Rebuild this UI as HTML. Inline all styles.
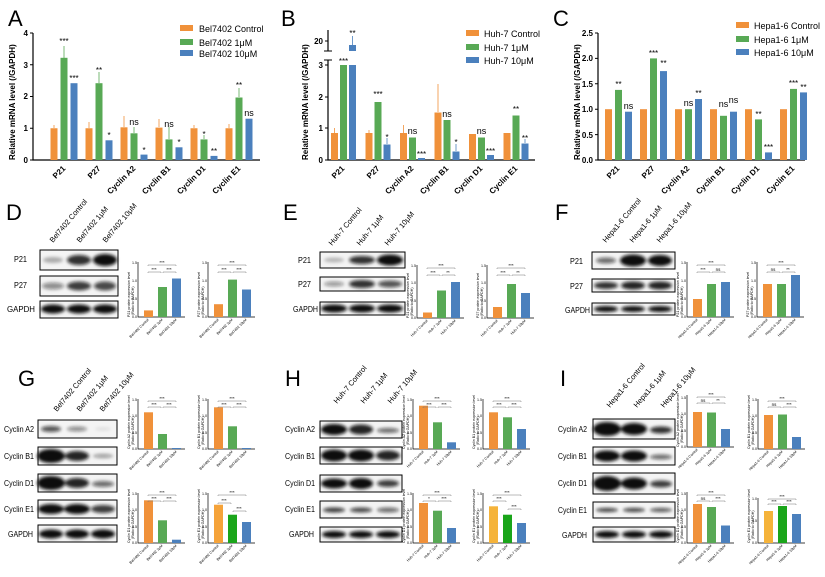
<!DOCTYPE html>
<html><head><meta charset="utf-8"><style>
body{margin:0;background:#fff}
svg{display:block;font-family:"Liberation Sans",Arial,sans-serif}
.L{font-size:22px}
.tk{font-size:8px;font-weight:bold}
.xl{font-size:8px;font-weight:bold}
.lg{font-size:9px}
.yl{font-size:8px;font-weight:bold}
.st{font-size:8px}
.bl{font-size:8px}
.ln{font-size:7.5px}
.s{font-size:3.6px}
.sb{font-size:4.5px}
</style></head><body>
<svg width="825" height="577" viewBox="0 0 825 577" xmlns="http://www.w3.org/2000/svg">
<defs><filter id="bl" x="-20%" y="-50%" width="140%" height="200%"><feGaussianBlur stdDeviation="1.6"/></filter></defs>
<rect width="825" height="577" fill="#fff"/>

<!-- ===== A ===== -->
<text x="8" y="26" class="L">A</text>
<text transform="translate(15,160) rotate(-90)" class="yl">Relative mRNA level (/GAPDH)</text>
<path d="M33,33V160H260" stroke="#000" stroke-width="1.2" fill="none"/>
<g stroke="#000" stroke-width="1"><path d="M30,33H33M30,64.75H33M30,96.5H33M30,128.25H33M30,160H33"/></g>
<g class="tk" text-anchor="end"><text x="28" y="36">4</text><text x="28" y="68">3</text><text x="28" y="99">2</text><text x="28" y="131">1</text><text x="28" y="163">0</text></g>
<g fill="#f0913a"><rect x="50.5" y="128.25" width="7" height="31.75"/><rect x="85.5" y="128.25" width="7" height="31.75"/><rect x="120.5" y="127.3" width="7" height="32.7"/><rect x="155.5" y="127.6" width="7" height="32.4"/><rect x="190.5" y="128.25" width="7" height="31.75"/><rect x="225.5" y="128.25" width="7" height="31.75"/></g>
<g fill="#58a955"><rect x="60.5" y="57.8" width="7" height="102.2"/><rect x="95.5" y="83.2" width="7" height="76.8"/><rect x="130.5" y="133.3" width="7" height="26.7"/><rect x="165.5" y="139.4" width="7" height="20.6"/><rect x="200.5" y="139.4" width="7" height="20.6"/><rect x="235.5" y="97.5" width="7" height="62.5"/></g>
<g fill="#4b80bd"><rect x="70.5" y="83.2" width="7" height="76.8"/><rect x="105.5" y="140.3" width="7" height="19.7"/><rect x="140.5" y="154.6" width="7" height="5.4"/><rect x="175.5" y="147.3" width="7" height="12.7"/><rect x="210.5" y="155.9" width="7" height="4.1"/><rect x="245.5" y="118.7" width="7" height="41.3"/></g>
<g stroke-width=".8" fill="none"><path stroke="#f0913a" d="M54,128V125M89,128V122M124,127V116M159,127V119M194,128V125M229,128V124"/><path stroke="#58a955" d="M64,58V46M99,83V72M134,133V127M169,139V127M204,139V135M239,97V88"/></g>
<g class="st" text-anchor="middle"><text x="64" y="44">***</text><text x="74" y="81">***</text><text x="99" y="73">**</text><text x="109" y="138">*</text><text x="134" y="125" font-size="9">ns</text><text x="144" y="153">*</text><text x="169" y="127" font-size="9">ns</text><text x="179" y="145">*</text><text x="204" y="137">*</text><text x="214" y="154">**</text><text x="239" y="88">**</text><text x="249" y="116" font-size="9">ns</text></g>
<g class="xl" text-anchor="end"><text transform="translate(66,169) rotate(-45)">P21</text><text transform="translate(101,169) rotate(-45)">P27</text><text transform="translate(136,169) rotate(-45)">Cyclin A2</text><text transform="translate(171,169) rotate(-45)">Cyclin B1</text><text transform="translate(206,169) rotate(-45)">Cyclin D1</text><text transform="translate(241,169) rotate(-45)">Cyclin E1</text></g>
<rect x="180" y="25" width="13" height="6" fill="#f0913a"/><rect x="180" y="39" width="13" height="6" fill="#58a955"/><rect x="180" y="50" width="13" height="6" fill="#4b80bd"/>
<g class="lg"><text x="199" y="32">Bel7402 Control</text><text x="199" y="46">Bel7402 1μM</text><text x="199" y="57">Bel7402 10μM</text></g>

<!-- ===== B ===== -->
<text x="281" y="26" class="L">B</text>
<text transform="translate(308,160) rotate(-90)" class="yl">Relative mRNA level (/GAPDH)</text>
<path d="M328,30V51M328,60V160H535" stroke="#000" stroke-width="1.2" fill="none"/>
<path d="M324,51H332M324,60H332M325,41H328M325,65H328M325,97H328M325,128H328M325,160H328" stroke="#000" stroke-width="1"/>
<g class="tk" text-anchor="end"><text x="323" y="44">20</text><text x="323" y="68">3</text><text x="323" y="100">2</text><text x="323" y="131">1</text><text x="323" y="163">0</text></g>
<g fill="#f0913a"><rect x="331" y="133" width="7" height="27"/><rect x="365.5" y="133" width="7" height="27"/><rect x="400" y="133" width="7" height="27"/><rect x="434.5" y="112.5" width="7" height="47.5"/><rect x="469" y="134" width="7" height="26"/><rect x="503.5" y="133" width="7" height="27"/></g>
<g fill="#58a955"><rect x="340" y="65" width="7" height="95"/><rect x="374.5" y="102" width="7" height="58"/><rect x="409" y="137.5" width="7" height="22.5"/><rect x="443.5" y="120" width="7" height="40"/><rect x="478" y="137.5" width="7" height="22.5"/><rect x="512.5" y="115.5" width="7" height="44.5"/></g>
<g fill="#4b80bd"><rect x="349" y="45" width="7" height="6"/><rect x="349" y="65" width="7" height="95"/><rect x="383.5" y="144.5" width="7" height="15.5"/><rect x="418" y="158" width="7" height="2"/><rect x="452.5" y="151.5" width="7" height="8.5"/><rect x="487" y="155" width="7" height="5"/><rect x="521.5" y="143.5" width="7" height="16.5"/></g>
<g stroke-width=".8" fill="none"><path stroke="#f0913a" d="M334.5,133V128M438,112V84M369,133V130M403.5,133V125"/><path stroke="#4b80bd" d="M352.5,45V36M387,144V138M456,151V144M525,143V139"/></g>
<g class="st" text-anchor="middle"><text x="343.5" y="64">***</text><text x="352.5" y="36">**</text><text x="378" y="97">***</text><text x="387" y="140">*</text><text x="412.5" y="134" font-size="9">ns</text><text x="421.5" y="157">***</text><text x="447" y="117" font-size="9">ns</text><text x="456" y="145">*</text><text x="481.5" y="134" font-size="9">ns</text><text x="490.5" y="154">***</text><text x="516" y="112">**</text><text x="525" y="141">**</text></g>
<g class="xl" text-anchor="end"><text transform="translate(345,169) rotate(-45)">P21</text><text transform="translate(380,169) rotate(-45)">P27</text><text transform="translate(414,169) rotate(-45)">Cyclin A2</text><text transform="translate(449,169) rotate(-45)">Cyclin B1</text><text transform="translate(483,169) rotate(-45)">Cyclin D1</text><text transform="translate(518,169) rotate(-45)">Cyclin E1</text></g>
<rect x="466" y="30" width="13" height="6" fill="#f0913a"/><rect x="466" y="44" width="13" height="6" fill="#58a955"/><rect x="466" y="57" width="13" height="6" fill="#4b80bd"/>
<g class="lg"><text x="484" y="37">Huh-7 Control</text><text x="484" y="51">Huh-7 1μM</text><text x="484" y="64">Huh-7 10μM</text></g>

<!-- ===== C ===== -->
<text x="553" y="26" class="L">C</text>
<text transform="translate(580,160) rotate(-90)" class="yl">Relative mRNA level (/GAPDH)</text>
<path d="M598,33V160H805" stroke="#000" stroke-width="1.2" fill="none"/>
<path d="M595,33H598M595,58.4H598M595,83.8H598M595,109.2H598M595,134.6H598M595,160H598" stroke="#000"/>
<g class="tk" text-anchor="end"><text x="593" y="36">2.5</text><text x="593" y="61">2.0</text><text x="593" y="87">1.5</text><text x="593" y="112">1.0</text><text x="593" y="138">0.5</text><text x="593" y="163">0.0</text></g>
<g fill="#f0913a"><rect x="605" y="109.2" width="7" height="50.8"/><rect x="640" y="109.2" width="7" height="50.8"/><rect x="675" y="109.2" width="7" height="50.8"/><rect x="710" y="109.2" width="7" height="50.8"/><rect x="745" y="109.2" width="7" height="50.8"/><rect x="780" y="109.2" width="7" height="50.8"/></g>
<g fill="#58a955"><rect x="615" y="89.9" width="7" height="70.1"/><rect x="650" y="58.4" width="7" height="101.6"/><rect x="685" y="109.2" width="7" height="50.8"/><rect x="720" y="115.8" width="7" height="44.2"/><rect x="755" y="119.4" width="7" height="40.6"/><rect x="790" y="88.9" width="7" height="71.1"/></g>
<g fill="#4b80bd"><rect x="625" y="111.7" width="7" height="48.3"/><rect x="660" y="71.1" width="7" height="88.9"/><rect x="695" y="99" width="7" height="61"/><rect x="730" y="111.7" width="7" height="48.3"/><rect x="765" y="152.4" width="7" height="7.6"/><rect x="800" y="92.4" width="7" height="67.6"/></g>
<g class="st" text-anchor="middle"><text x="618.5" y="87">**</text><text x="628.5" y="109" font-size="9">ns</text><text x="653.5" y="56">***</text><text x="663.5" y="66">**</text><text x="688.5" y="106" font-size="9">ns</text><text x="698.5" y="96">**</text><text x="723.5" y="107" font-size="9">ns</text><text x="733.5" y="103" font-size="9">ns</text><text x="758.5" y="117">**</text><text x="768.5" y="150">***</text><text x="793.5" y="86">***</text><text x="803.5" y="90">**</text></g>
<g class="xl" text-anchor="end"><text transform="translate(620,169) rotate(-45)">P21</text><text transform="translate(655,169) rotate(-45)">P27</text><text transform="translate(690,169) rotate(-45)">Cyclin A2</text><text transform="translate(725,169) rotate(-45)">Cyclin B1</text><text transform="translate(760,169) rotate(-45)">Cyclin D1</text><text transform="translate(795,169) rotate(-45)">Cyclin E1</text></g>
<rect x="736" y="22" width="13" height="6" fill="#f0913a"/><rect x="736" y="36" width="13" height="6" fill="#58a955"/><rect x="736" y="49" width="13" height="6" fill="#4b80bd"/>
<g class="lg"><text x="754" y="29">Hepa1-6 Control</text><text x="754" y="43">Hepa1-6 1μM</text><text x="754" y="56">Hepa1-6 10μM</text></g>

<!-- ===== D ===== -->
<text x="6" y="220" class="L">D</text>
<g class="ln"><text transform="translate(53,243) rotate(-50)">Bel7402 Control</text><text transform="translate(80,243) rotate(-50)">Bel7402 1μM</text><text transform="translate(106,243) rotate(-50)">Bel7402 10μM</text></g>
<g class="bl"><text x="14" y="262" textLength="13" lengthAdjust="spacingAndGlyphs">P21</text><text x="14" y="288" textLength="13" lengthAdjust="spacingAndGlyphs">P27</text><text x="7" y="312" textLength="28" lengthAdjust="spacingAndGlyphs">GAPDH</text></g>
<g stroke="#000" stroke-width="1" fill="#f4f4f4"><rect x="40" y="250" width="78" height="20"/><rect x="40" y="276" width="78" height="20"/><rect x="40" y="301" width="78" height="17"/></g>
<g filter="url(#bl)" fill="#111"><ellipse cx="53" cy="260" rx="10" ry="3" opacity=".3"/><ellipse cx="79" cy="260" rx="12" ry="5" opacity=".85"/><ellipse cx="105" cy="260" rx="12" ry="6"/><ellipse cx="53" cy="286" rx="11" ry="3.5" opacity=".45"/><ellipse cx="79" cy="286" rx="12" ry="4.5" opacity=".8"/><ellipse cx="105" cy="286" rx="11" ry="4.5" opacity=".75"/><ellipse cx="53" cy="309" rx="12" ry="4.5"/><ellipse cx="79" cy="309" rx="12" ry="4.5"/><ellipse cx="105" cy="309" rx="12" ry="4.5"/></g>

<!-- ===== E ===== -->
<text x="283" y="220" class="L">E</text>
<g class="ln"><text transform="translate(332,246) rotate(-50)">Huh-7 Control</text><text transform="translate(360,246) rotate(-50)">Huh-7 1μM</text><text transform="translate(388,246) rotate(-50)">Huh-7 10μM</text></g>
<g class="bl"><text x="298" y="263" textLength="13" lengthAdjust="spacingAndGlyphs">P21</text><text x="298" y="287" textLength="13" lengthAdjust="spacingAndGlyphs">P27</text><text x="293" y="312" textLength="25" lengthAdjust="spacingAndGlyphs">GAPDH</text></g>
<g stroke="#000" stroke-width="1" fill="#f4f4f4"><rect x="320" y="252" width="85" height="16"/><rect x="320" y="277" width="85" height="14"/><rect x="320" y="302" width="85" height="13"/></g>
<g filter="url(#bl)" fill="#111"><ellipse cx="334" cy="260" rx="10" ry="2.5" opacity=".25"/><ellipse cx="362" cy="260" rx="13" ry="4" opacity=".85"/><ellipse cx="390" cy="260" rx="13" ry="5.5"/><ellipse cx="334" cy="284" rx="10" ry="2.5" opacity=".4"/><ellipse cx="362" cy="284" rx="13" ry="4" opacity=".85"/><ellipse cx="390" cy="284" rx="12" ry="3.5" opacity=".7"/><ellipse cx="334" cy="308.5" rx="13" ry="4"/><ellipse cx="362" cy="308.5" rx="13" ry="4"/><ellipse cx="390" cy="308.5" rx="13" ry="4"/></g>

<!-- ===== F ===== -->
<text x="555" y="220" class="L">F</text>
<g class="ln"><text transform="translate(606,243) rotate(-50)">Hepa1-6 Control</text><text transform="translate(633,243) rotate(-50)">Hepa1-6 1μM</text><text transform="translate(660,243) rotate(-50)">Hepa1-6 10μM</text></g>
<g class="bl"><text x="570" y="264" textLength="13" lengthAdjust="spacingAndGlyphs">P21</text><text x="570" y="289" textLength="13" lengthAdjust="spacingAndGlyphs">P27</text><text x="565" y="313" textLength="25" lengthAdjust="spacingAndGlyphs">GAPDH</text></g>
<g stroke="#000" stroke-width="1" fill="#f4f4f4"><rect x="592" y="252" width="83" height="17"/><rect x="592" y="279" width="83" height="13"/><rect x="592" y="303" width="83" height="12"/></g>
<g filter="url(#bl)" fill="#111"><ellipse cx="606" cy="260.5" rx="10" ry="3" opacity=".6"/><ellipse cx="633" cy="260.5" rx="13" ry="6"/><ellipse cx="660" cy="260.5" rx="12" ry="5.5"/><ellipse cx="606" cy="285.5" rx="12" ry="3.5" opacity=".85"/><ellipse cx="633" cy="285.5" rx="12" ry="4" opacity=".9"/><ellipse cx="660" cy="285.5" rx="12" ry="4" opacity=".9"/><ellipse cx="606" cy="309" rx="12" ry="3"/><ellipse cx="633" cy="309" rx="12" ry="3"/><ellipse cx="660" cy="309" rx="12" ry="3"/></g>

<!-- small charts row D/E/F (H=55) -->
<g>
<g transform="translate(138,317)"><path d="M0,-55V0H47" stroke="#000" stroke-width=".7" fill="none"/><rect x="6" y="-6.6" width="9" height="6.6" fill="#f0913a"/><rect x="20" y="-30" width="9" height="30" fill="#58a955"/><rect x="34" y="-38.5" width="9" height="38.5" fill="#4b80bd"/><path d="M10,-51V-52H38V-51M10,-44V-45H23V-44M25,-44V-45H38V-44" stroke="#777" stroke-width=".5" fill="none"/><text x="24" y="-53" class="sb" text-anchor="middle">***</text><text x="16" y="-46" class="sb" text-anchor="middle">***</text><text x="31" y="-46" class="sb" text-anchor="middle">***</text><text transform="translate(-8,0) rotate(-90)" class="s">P21 protein expression level</text><text transform="translate(-4,-2) rotate(-90)" class="s">(Ratio to GAPDH)</text><g class="s" text-anchor="end"><text x="-1" y="-53">1.5</text><text x="-1" y="-35">1.0</text><text x="-1" y="-17">0.5</text><text x="-1" y="1">0.0</text></g><g class="s" text-anchor="end"><text transform="translate(11,3) rotate(-45)">Bel7402 Control</text><text transform="translate(25,3) rotate(-45)">Bel7402 1μM</text><text transform="translate(39,3) rotate(-45)">Bel7402 10μM</text></g></g>
<g transform="translate(208,317)"><path d="M0,-55V0H47" stroke="#000" stroke-width=".7" fill="none"/><rect x="6" y="-12.8" width="9" height="12.8" fill="#f0913a"/><rect x="20" y="-37.4" width="9" height="37.4" fill="#58a955"/><rect x="34" y="-27.5" width="9" height="27.5" fill="#4b80bd"/><path d="M10,-51V-52H38V-51M10,-44V-45H23V-44M25,-44V-45H38V-44" stroke="#777" stroke-width=".5" fill="none"/><text x="24" y="-53" class="sb" text-anchor="middle">***</text><text x="16" y="-46" class="sb" text-anchor="middle">***</text><text x="31" y="-46" class="sb" text-anchor="middle">***</text><text transform="translate(-8,0) rotate(-90)" class="s">P27 protein expression level</text><text transform="translate(-4,-2) rotate(-90)" class="s">(Ratio to GAPDH)</text><g class="s" text-anchor="end"><text x="-1" y="-53">1.5</text><text x="-1" y="-35">1.0</text><text x="-1" y="-17">0.5</text><text x="-1" y="1">0.0</text></g><g class="s" text-anchor="end"><text transform="translate(11,3) rotate(-45)">Bel7402 Control</text><text transform="translate(25,3) rotate(-45)">Bel7402 1μM</text><text transform="translate(39,3) rotate(-45)">Bel7402 10μM</text></g></g>
<g transform="translate(417,318)"><path d="M0,-53V0H47" stroke="#000" stroke-width=".7" fill="none"/><rect x="6" y="-5.5" width="9" height="5.5" fill="#f0913a"/><rect x="20" y="-27.5" width="9" height="27.5" fill="#58a955"/><rect x="34" y="-36" width="9" height="36" fill="#4b80bd"/><path d="M10,-49V-50H38V-49M10,-42V-43H23V-42M25,-42V-43H38V-42" stroke="#777" stroke-width=".5" fill="none"/><text x="24" y="-51" class="sb" text-anchor="middle">***</text><text x="16" y="-44" class="sb" text-anchor="middle">***</text><text x="31" y="-44" class="sb" text-anchor="middle">**</text><text transform="translate(-8,0) rotate(-90)" class="s">P21 protein expression level</text><text transform="translate(-4,-2) rotate(-90)" class="s">(Ratio to GAPDH)</text><g class="s" text-anchor="end"><text x="-1" y="-51">1.5</text><text x="-1" y="-34">1.0</text><text x="-1" y="-16">0.5</text><text x="-1" y="1">0.0</text></g><g class="s" text-anchor="end"><text transform="translate(11,3) rotate(-45)">Huh-7 Control</text><text transform="translate(25,3) rotate(-45)">Huh-7 1μM</text><text transform="translate(39,3) rotate(-45)">Huh-7 10μM</text></g></g>
<g transform="translate(487,318)"><path d="M0,-53V0H47" stroke="#000" stroke-width=".7" fill="none"/><rect x="6" y="-11" width="9" height="11" fill="#f0913a"/><rect x="20" y="-34" width="9" height="34" fill="#58a955"/><rect x="34" y="-25" width="9" height="25" fill="#4b80bd"/><path d="M10,-49V-50H38V-49M10,-42V-43H23V-42M25,-42V-43H38V-42" stroke="#777" stroke-width=".5" fill="none"/><text x="24" y="-51" class="sb" text-anchor="middle">***</text><text x="16" y="-44" class="sb" text-anchor="middle">***</text><text x="31" y="-44" class="sb" text-anchor="middle">**</text><text transform="translate(-8,0) rotate(-90)" class="s">P27 protein expression level</text><text transform="translate(-4,-2) rotate(-90)" class="s">(Ratio to GAPDH)</text><g class="s" text-anchor="end"><text x="-1" y="-51">1.5</text><text x="-1" y="-34">1.0</text><text x="-1" y="-16">0.5</text><text x="-1" y="1">0.0</text></g><g class="s" text-anchor="end"><text transform="translate(11,3) rotate(-45)">Huh-7 Control</text><text transform="translate(25,3) rotate(-45)">Huh-7 1μM</text><text transform="translate(39,3) rotate(-45)">Huh-7 10μM</text></g></g>
<g transform="translate(687,317)"><path d="M0,-55V0H47" stroke="#000" stroke-width=".7" fill="none"/><rect x="6" y="-18" width="9" height="18" fill="#f0913a"/><rect x="20" y="-33" width="9" height="33" fill="#58a955"/><rect x="34" y="-35" width="9" height="35" fill="#4b80bd"/><path d="M10,-51V-52H38V-51M10,-44V-45H23V-44M25,-44V-45H38V-44" stroke="#777" stroke-width=".5" fill="none"/><text x="24" y="-53" class="sb" text-anchor="middle">***</text><text x="16" y="-46" class="sb" text-anchor="middle">***</text><text x="31" y="-46" class="sb" text-anchor="middle">ns</text><text transform="translate(-8,0) rotate(-90)" class="s">P21 protein expression level</text><text transform="translate(-4,-2) rotate(-90)" class="s">(Ratio to GAPDH)</text><g class="s" text-anchor="end"><text x="-1" y="-53">1.5</text><text x="-1" y="-35">1.0</text><text x="-1" y="-17">0.5</text><text x="-1" y="1">0.0</text></g><g class="s" text-anchor="end"><text transform="translate(11,3) rotate(-45)">Hepa1-6 Control</text><text transform="translate(25,3) rotate(-45)">Hepa1-6 1μM</text><text transform="translate(39,3) rotate(-45)">Hepa1-6 10μM</text></g></g>
<g transform="translate(757,317)"><path d="M0,-55V0H47" stroke="#000" stroke-width=".7" fill="none"/><rect x="6" y="-33" width="9" height="33" fill="#f0913a"/><rect x="20" y="-33" width="9" height="33" fill="#58a955"/><rect x="34" y="-42" width="9" height="42" fill="#4b80bd"/><path d="M10,-51V-52H38V-51M10,-44V-45H23V-44M25,-44V-45H38V-44" stroke="#777" stroke-width=".5" fill="none"/><text x="24" y="-53" class="sb" text-anchor="middle">***</text><text x="16" y="-46" class="sb" text-anchor="middle">ns</text><text x="31" y="-46" class="sb" text-anchor="middle">**</text><text transform="translate(-8,0) rotate(-90)" class="s">P27 protein expression level</text><text transform="translate(-4,-2) rotate(-90)" class="s">(Ratio to GAPDH)</text><g class="s" text-anchor="end"><text x="-1" y="-53">1.5</text><text x="-1" y="-35">1.0</text><text x="-1" y="-17">0.5</text><text x="-1" y="1">0.0</text></g><g class="s" text-anchor="end"><text transform="translate(11,3) rotate(-45)">Hepa1-6 Control</text><text transform="translate(25,3) rotate(-45)">Hepa1-6 1μM</text><text transform="translate(39,3) rotate(-45)">Hepa1-6 10μM</text></g></g>
</g>

<!-- ===== G ===== -->
<text x="18" y="386" class="L">G</text>
<g class="ln"><text transform="translate(57,412) rotate(-50)">Bel7402 Control</text><text transform="translate(80,412) rotate(-50)">Bel7402 1μM</text><text transform="translate(103,412) rotate(-50)">Bel7402 10μM</text></g>
<g class="bl"><text x="4" y="432" textLength="30" lengthAdjust="spacingAndGlyphs">Cyclin A2</text><text x="4" y="459" textLength="30" lengthAdjust="spacingAndGlyphs">Cyclin B1</text><text x="4" y="486" textLength="30" lengthAdjust="spacingAndGlyphs">Cyclin D1</text><text x="4" y="512" textLength="30" lengthAdjust="spacingAndGlyphs">Cyclin E1</text><text x="8" y="537" textLength="25" lengthAdjust="spacingAndGlyphs">GAPDH</text></g>
<g stroke="#000" stroke-width="1" fill="#f4f4f4"><rect x="38" y="420" width="79" height="18"/><rect x="38" y="447" width="79" height="18"/><rect x="38" y="474" width="79" height="18"/><rect x="38" y="500" width="79" height="18"/><rect x="38" y="525" width="79" height="17"/></g>
<g filter="url(#bl)" fill="#111"><ellipse cx="51" cy="429" rx="10" ry="3" opacity=".7"/><ellipse cx="77" cy="429" rx="10" ry="2.5" opacity=".45"/><ellipse cx="103" cy="429" rx="8" ry="1.5" opacity=".1"/><ellipse cx="51" cy="456" rx="14" ry="7"/><ellipse cx="77" cy="456" rx="12" ry="5" opacity=".9"/><ellipse cx="103" cy="456" rx="10" ry="2" opacity=".4"/><ellipse cx="51" cy="483" rx="14" ry="7"/><ellipse cx="77" cy="483" rx="12" ry="5" opacity=".9"/><ellipse cx="103" cy="484" rx="11" ry="3" opacity=".6"/><ellipse cx="51" cy="509" rx="13" ry="5"/><ellipse cx="77" cy="509" rx="13" ry="5"/><ellipse cx="103" cy="509" rx="12" ry="4" opacity=".8"/><ellipse cx="51" cy="534" rx="12" ry="4.5"/><ellipse cx="77" cy="534" rx="12" ry="4.5"/><ellipse cx="103" cy="534" rx="12" ry="4.5"/></g>

<!-- ===== H ===== -->
<text x="285" y="386" class="L">H</text>
<g class="ln"><text transform="translate(337,404) rotate(-50)">Huh-7 Control</text><text transform="translate(364,404) rotate(-50)">Huh-7 1μM</text><text transform="translate(391,404) rotate(-50)">Huh-7 10μM</text></g>
<g class="bl"><text x="285" y="432" textLength="30" lengthAdjust="spacingAndGlyphs">Cyclin A2</text><text x="285" y="459" textLength="30" lengthAdjust="spacingAndGlyphs">Cyclin B1</text><text x="285" y="486" textLength="30" lengthAdjust="spacingAndGlyphs">Cyclin D1</text><text x="285" y="512" textLength="30" lengthAdjust="spacingAndGlyphs">Cyclin E1</text><text x="289" y="537" textLength="25" lengthAdjust="spacingAndGlyphs">GAPDH</text></g>
<g stroke="#000" stroke-width="1" fill="#f4f4f4"><rect x="320" y="421" width="82" height="17"/><rect x="320" y="447" width="82" height="17"/><rect x="320" y="475" width="82" height="17"/><rect x="320" y="501" width="82" height="17"/><rect x="320" y="527" width="82" height="15"/></g>
<g filter="url(#bl)" fill="#111"><ellipse cx="334" cy="429.5" rx="13" ry="5.5"/><ellipse cx="361" cy="429.5" rx="12" ry="5" opacity=".9"/><ellipse cx="388" cy="430.5" rx="11" ry="2.5" opacity=".6"/><ellipse cx="334" cy="455.5" rx="13" ry="6"/><ellipse cx="361" cy="455.5" rx="13" ry="6"/><ellipse cx="388" cy="455.5" rx="12" ry="5" opacity=".9"/><ellipse cx="334" cy="483.5" rx="13" ry="5"/><ellipse cx="361" cy="483.5" rx="12" ry="5.5"/><ellipse cx="388" cy="483.5" rx="11" ry="3.5" opacity=".8"/><ellipse cx="334" cy="510" rx="11" ry="2.5" opacity=".8"/><ellipse cx="361" cy="510" rx="11" ry="2.5" opacity=".75"/><ellipse cx="388" cy="510" rx="11" ry="2.5" opacity=".6"/><ellipse cx="334" cy="534.5" rx="12" ry="3.5"/><ellipse cx="361" cy="534.5" rx="12" ry="3.5"/><ellipse cx="388" cy="534.5" rx="12" ry="3.5"/></g>

<!-- ===== I ===== -->
<text x="560" y="386" class="L">I</text>
<g class="ln"><text transform="translate(610,408) rotate(-50)">Hepa1-6 Control</text><text transform="translate(637,408) rotate(-50)">Hepa1-6 1μM</text><text transform="translate(664,408) rotate(-50)">Hepa1-6 10μM</text></g>
<g class="bl"><text x="558" y="432" textLength="29" lengthAdjust="spacingAndGlyphs">Cyclin A2</text><text x="558" y="459" textLength="29" lengthAdjust="spacingAndGlyphs">Cyclin B1</text><text x="558" y="486" textLength="29" lengthAdjust="spacingAndGlyphs">Cyclin D1</text><text x="558" y="513" textLength="29" lengthAdjust="spacingAndGlyphs">Cyclin E1</text><text x="562" y="538" textLength="25" lengthAdjust="spacingAndGlyphs">GAPDH</text></g>
<g stroke="#000" stroke-width="1" fill="#f4f4f4"><rect x="593" y="419" width="82" height="20"/><rect x="593" y="447" width="82" height="18"/><rect x="593" y="473" width="82" height="21"/><rect x="593" y="502" width="82" height="16"/><rect x="593" y="527" width="82" height="15"/></g>
<g filter="url(#bl)" fill="#111"><ellipse cx="607" cy="429" rx="14" ry="7"/><ellipse cx="634" cy="429" rx="13" ry="6"/><ellipse cx="661" cy="430" rx="11" ry="3.5" opacity=".85"/><ellipse cx="607" cy="456" rx="13" ry="5.5"/><ellipse cx="634" cy="456" rx="13" ry="5.5"/><ellipse cx="661" cy="457" rx="11" ry="2.5" opacity=".6"/><ellipse cx="607" cy="483.5" rx="14" ry="7.5"/><ellipse cx="634" cy="483.5" rx="13" ry="6"/><ellipse cx="661" cy="484" rx="11" ry="3.5" opacity=".8"/><ellipse cx="607" cy="510" rx="11" ry="2" opacity=".8"/><ellipse cx="634" cy="510" rx="11" ry="2" opacity=".8"/><ellipse cx="661" cy="510" rx="11" ry="2" opacity=".7"/><ellipse cx="607" cy="534.5" rx="12" ry="3.5"/><ellipse cx="634" cy="534.5" rx="12" ry="3.5"/><ellipse cx="661" cy="534.5" rx="12" ry="3.5"/></g>

<!-- small charts rows G/H/I (H=50) -->
<g>
<g transform="translate(138,449)"><path d="M0,-50V0H47" stroke="#000" stroke-width=".7" fill="none"/><rect x="6" y="-36.7" width="9" height="36.7" fill="#f0913a"/><rect x="20" y="-15" width="9" height="15" fill="#58a955"/><rect x="34" y="-1" width="9" height="1" fill="#4b80bd"/><path d="M10,-47V-48H38V-47M10,-41V-42H23V-41M25,-41V-42H38V-41" stroke="#777" stroke-width=".5" fill="none"/><text x="24" y="-49" class="sb" text-anchor="middle">***</text><text x="16" y="-43" class="sb" text-anchor="middle">***</text><text x="31" y="-43" class="sb" text-anchor="middle">***</text><text transform="translate(-8,0) rotate(-90)" class="s">Cyclin A2 protein expression level</text><text transform="translate(-4,-4) rotate(-90)" class="s">(Ratio to GAPDH)</text><g class="s" text-anchor="end"><text x="-1" y="-48">1.5</text><text x="-1" y="-32">1.0</text><text x="-1" y="-15">0.5</text><text x="-1" y="1">0.0</text></g><g class="s" text-anchor="end"><text transform="translate(11,3) rotate(-45)">Bel7402 Control</text><text transform="translate(25,3) rotate(-45)">Bel7402 1μM</text><text transform="translate(39,3) rotate(-45)">Bel7402 10μM</text></g></g>
<g transform="translate(208,449)"><path d="M0,-50V0H47" stroke="#000" stroke-width=".7" fill="none"/><rect x="6" y="-41.7" width="9" height="41.7" fill="#f0913a"/><rect x="20" y="-22.7" width="9" height="22.7" fill="#58a955"/><rect x="34" y="-1" width="9" height="1" fill="#4b80bd"/><path d="M10,-47V-48H38V-47M10,-41V-42H23V-41M25,-41V-42H38V-41" stroke="#777" stroke-width=".5" fill="none"/><text x="24" y="-49" class="sb" text-anchor="middle">***</text><text x="16" y="-43" class="sb" text-anchor="middle">***</text><text x="31" y="-43" class="sb" text-anchor="middle">***</text><text transform="translate(-8,0) rotate(-90)" class="s">Cyclin B1 protein expression level</text><text transform="translate(-4,-4) rotate(-90)" class="s">(Ratio to GAPDH)</text><g class="s" text-anchor="end"><text x="-1" y="-48">1.5</text><text x="-1" y="-32">1.0</text><text x="-1" y="-15">0.5</text><text x="-1" y="1">0.0</text></g><g class="s" text-anchor="end"><text transform="translate(11,3) rotate(-45)">Bel7402 Control</text><text transform="translate(25,3) rotate(-45)">Bel7402 1μM</text><text transform="translate(39,3) rotate(-45)">Bel7402 10μM</text></g></g>
<g transform="translate(138,543)"><path d="M0,-50V0H47" stroke="#000" stroke-width=".7" fill="none"/><rect x="6" y="-42.7" width="9" height="42.7" fill="#f0913a"/><rect x="20" y="-22.7" width="9" height="22.7" fill="#58a955"/><rect x="34" y="-3.3" width="9" height="3.3" fill="#4b80bd"/><path d="M10,-47V-48H38V-47M10,-41V-42H23V-41M25,-41V-42H38V-41" stroke="#777" stroke-width=".5" fill="none"/><text x="24" y="-49" class="sb" text-anchor="middle">***</text><text x="16" y="-43" class="sb" text-anchor="middle">***</text><text x="31" y="-43" class="sb" text-anchor="middle">***</text><text transform="translate(-8,0) rotate(-90)" class="s">Cyclin D1 protein expression level</text><text transform="translate(-4,-4) rotate(-90)" class="s">(Ratio to GAPDH)</text><g class="s" text-anchor="end"><text x="-1" y="-48">1.5</text><text x="-1" y="-32">1.0</text><text x="-1" y="-15">0.5</text><text x="-1" y="1">0.0</text></g><g class="s" text-anchor="end"><text transform="translate(11,3) rotate(-45)">Bel7402 Control</text><text transform="translate(25,3) rotate(-45)">Bel7402 1μM</text><text transform="translate(39,3) rotate(-45)">Bel7402 10μM</text></g></g>
<g transform="translate(208,543)"><path d="M0,-50V0H47" stroke="#000" stroke-width=".7" fill="none"/><rect x="6" y="-38.3" width="9" height="38.3" fill="#f5a33a"/><rect x="20" y="-28.3" width="9" height="28.3" fill="#1aa51a"/><rect x="34" y="-21" width="9" height="21" fill="#4b80bd"/><path d="M10,-47V-48H38V-47M10,-39V-40H23V-39M25,-31V-32H38V-31" stroke="#777" stroke-width=".5" fill="none"/><text x="24" y="-49" class="sb" text-anchor="middle">***</text><text x="16" y="-41" class="sb" text-anchor="middle">***</text><text x="31" y="-33" class="sb" text-anchor="middle">***</text><text transform="translate(-8,0) rotate(-90)" class="s">Cyclin E1 protein expression level</text><text transform="translate(-4,-4) rotate(-90)" class="s">(Ratio to GAPDH)</text><g class="s" text-anchor="end"><text x="-1" y="-48">1.5</text><text x="-1" y="-32">1.0</text><text x="-1" y="-15">0.5</text><text x="-1" y="1">0.0</text></g><g class="s" text-anchor="end"><text transform="translate(11,3) rotate(-45)">Bel7402 Control</text><text transform="translate(25,3) rotate(-45)">Bel7402 1μM</text><text transform="translate(39,3) rotate(-45)">Bel7402 10μM</text></g></g>
<g transform="translate(413,449)"><path d="M0,-50V0H47" stroke="#000" stroke-width=".7" fill="none"/><rect x="6" y="-43.3" width="9" height="43.3" fill="#f0913a"/><rect x="20" y="-26.7" width="9" height="26.7" fill="#58a955"/><rect x="34" y="-6.7" width="9" height="6.7" fill="#4b80bd"/><path d="M10,-47V-48H38V-47M10,-41V-42H23V-41M25,-41V-42H38V-41" stroke="#777" stroke-width=".5" fill="none"/><text x="24" y="-49" class="sb" text-anchor="middle">***</text><text x="16" y="-43" class="sb" text-anchor="middle">***</text><text x="31" y="-43" class="sb" text-anchor="middle">***</text><text transform="translate(-8,0) rotate(-90)" class="s">Cyclin A2 protein expression level</text><text transform="translate(-4,-4) rotate(-90)" class="s">(Ratio to GAPDH)</text><g class="s" text-anchor="end"><text x="-1" y="-48">1.5</text><text x="-1" y="-32">1.0</text><text x="-1" y="-15">0.5</text><text x="-1" y="1">0.0</text></g><g class="s" text-anchor="end"><text transform="translate(11,3) rotate(-45)">Huh-7 Control</text><text transform="translate(25,3) rotate(-45)">Huh-7 1μM</text><text transform="translate(39,3) rotate(-45)">Huh-7 10μM</text></g></g>
<g transform="translate(483,449)"><path d="M0,-50V0H47" stroke="#000" stroke-width=".7" fill="none"/><rect x="6" y="-36.7" width="9" height="36.7" fill="#f0913a"/><rect x="20" y="-31.7" width="9" height="31.7" fill="#58a955"/><rect x="34" y="-20" width="9" height="20" fill="#4b80bd"/><path d="M10,-47V-48H38V-47M10,-41V-42H23V-41M25,-41V-42H38V-41" stroke="#777" stroke-width=".5" fill="none"/><text x="24" y="-49" class="sb" text-anchor="middle">***</text><text x="16" y="-43" class="sb" text-anchor="middle">***</text><text x="31" y="-43" class="sb" text-anchor="middle">***</text><text transform="translate(-8,0) rotate(-90)" class="s">Cyclin B1 protein expression level</text><text transform="translate(-4,-4) rotate(-90)" class="s">(Ratio to GAPDH)</text><g class="s" text-anchor="end"><text x="-1" y="-48">1.5</text><text x="-1" y="-32">1.0</text><text x="-1" y="-15">0.5</text><text x="-1" y="1">0.0</text></g><g class="s" text-anchor="end"><text transform="translate(11,3) rotate(-45)">Huh-7 Control</text><text transform="translate(25,3) rotate(-45)">Huh-7 1μM</text><text transform="translate(39,3) rotate(-45)">Huh-7 10μM</text></g></g>
<g transform="translate(413,543)"><path d="M0,-50V0H47" stroke="#000" stroke-width=".7" fill="none"/><rect x="6" y="-40" width="9" height="40" fill="#f0913a"/><rect x="20" y="-32.3" width="9" height="32.3" fill="#58a955"/><rect x="34" y="-15" width="9" height="15" fill="#4b80bd"/><path d="M10,-47V-48H38V-47M10,-41V-42H23V-41M25,-41V-42H38V-41" stroke="#777" stroke-width=".5" fill="none"/><text x="24" y="-49" class="sb" text-anchor="middle">***</text><text x="16" y="-43" class="sb" text-anchor="middle">*</text><text x="31" y="-43" class="sb" text-anchor="middle">***</text><text transform="translate(-8,0) rotate(-90)" class="s">Cyclin D1 protein expression level</text><text transform="translate(-4,-4) rotate(-90)" class="s">(Ratio to GAPDH)</text><g class="s" text-anchor="end"><text x="-1" y="-48">1.5</text><text x="-1" y="-32">1.0</text><text x="-1" y="-15">0.5</text><text x="-1" y="1">0.0</text></g><g class="s" text-anchor="end"><text transform="translate(11,3) rotate(-45)">Huh-7 Control</text><text transform="translate(25,3) rotate(-45)">Huh-7 1μM</text><text transform="translate(39,3) rotate(-45)">Huh-7 10μM</text></g></g>
<g transform="translate(483,543)"><path d="M0,-50V0H47" stroke="#000" stroke-width=".7" fill="none"/><rect x="6" y="-36.7" width="9" height="36.7" fill="#f5b33a"/><rect x="20" y="-28.3" width="9" height="28.3" fill="#1aa51a"/><rect x="34" y="-20" width="9" height="20" fill="#4b80bd"/><path d="M10,-47V-48H38V-47M10,-41V-42H23V-41M25,-33V-34H38V-33" stroke="#777" stroke-width=".5" fill="none"/><text x="24" y="-49" class="sb" text-anchor="middle">***</text><text x="16" y="-43" class="sb" text-anchor="middle">***</text><text x="31" y="-35" class="sb" text-anchor="middle">***</text><text transform="translate(-8,0) rotate(-90)" class="s">Cyclin E1 protein expression level</text><text transform="translate(-4,-4) rotate(-90)" class="s">(Ratio to GAPDH)</text><g class="s" text-anchor="end"><text x="-1" y="-48">1.5</text><text x="-1" y="-32">1.0</text><text x="-1" y="-15">0.5</text><text x="-1" y="1">0.0</text></g><g class="s" text-anchor="end"><text transform="translate(11,3) rotate(-45)">Huh-7 Control</text><text transform="translate(25,3) rotate(-45)">Huh-7 1μM</text><text transform="translate(39,3) rotate(-45)">Huh-7 10μM</text></g></g>
<g transform="translate(687,447)"><path d="M0,-52V0H47" stroke="#000" stroke-width=".7" fill="none"/><rect x="6" y="-35" width="9" height="35" fill="#f0913a"/><rect x="20" y="-34.5" width="9" height="34.5" fill="#58a955"/><rect x="34" y="-18" width="9" height="18" fill="#4b80bd"/><path d="M10,-49V-50H38V-49M10,-43V-44H23V-43M25,-43V-44H38V-43" stroke="#777" stroke-width=".5" fill="none"/><text x="24" y="-51" class="sb" text-anchor="middle">***</text><text x="16" y="-45" class="sb" text-anchor="middle">ns</text><text x="31" y="-45" class="sb" text-anchor="middle">**</text><text transform="translate(-8,0) rotate(-90)" class="s">Cyclin A2 protein expression level</text><text transform="translate(-4,-4) rotate(-90)" class="s">(Ratio to GAPDH)</text><g class="s" text-anchor="end"><text x="-1" y="-48">1.5</text><text x="-1" y="-32">1.0</text><text x="-1" y="-15">0.5</text><text x="-1" y="1">0.0</text></g><g class="s" text-anchor="end"><text transform="translate(11,3) rotate(-45)">Hepa1-6 Control</text><text transform="translate(25,3) rotate(-45)">Hepa1-6 1μM</text><text transform="translate(39,3) rotate(-45)">Hepa1-6 10μM</text></g></g>
<g transform="translate(758,449)"><path d="M0,-50V0H47" stroke="#000" stroke-width=".7" fill="none"/><rect x="6" y="-34" width="9" height="34" fill="#f0913a"/><rect x="20" y="-34.5" width="9" height="34.5" fill="#58a955"/><rect x="34" y="-12" width="9" height="12" fill="#4b80bd"/><path d="M10,-47V-48H38V-47M10,-41V-42H23V-41M25,-41V-42H38V-41" stroke="#777" stroke-width=".5" fill="none"/><text x="24" y="-49" class="sb" text-anchor="middle">***</text><text x="16" y="-43" class="sb" text-anchor="middle">ns</text><text x="31" y="-43" class="sb" text-anchor="middle">***</text><text transform="translate(-8,0) rotate(-90)" class="s">Cyclin B1 protein expression level</text><text transform="translate(-4,-4) rotate(-90)" class="s">(Ratio to GAPDH)</text><g class="s" text-anchor="end"><text x="-1" y="-48">1.5</text><text x="-1" y="-32">1.0</text><text x="-1" y="-15">0.5</text><text x="-1" y="1">0.0</text></g><g class="s" text-anchor="end"><text transform="translate(11,3) rotate(-45)">Hepa1-6 Control</text><text transform="translate(25,3) rotate(-45)">Hepa1-6 1μM</text><text transform="translate(39,3) rotate(-45)">Hepa1-6 10μM</text></g></g>
<g transform="translate(687,543)"><path d="M0,-51V0H47" stroke="#000" stroke-width=".7" fill="none"/><rect x="6" y="-39" width="9" height="39" fill="#f0913a"/><rect x="20" y="-36" width="9" height="36" fill="#58a955"/><rect x="34" y="-17.5" width="9" height="17.5" fill="#4b80bd"/><path d="M10,-47V-48H38V-47M10,-41V-42H23V-41M25,-41V-42H38V-41" stroke="#777" stroke-width=".5" fill="none"/><text x="24" y="-49" class="sb" text-anchor="middle">***</text><text x="16" y="-43" class="sb" text-anchor="middle">ns</text><text x="31" y="-43" class="sb" text-anchor="middle">***</text><text transform="translate(-8,0) rotate(-90)" class="s">Cyclin D1 protein expression level</text><text transform="translate(-4,-4) rotate(-90)" class="s">(Ratio to GAPDH)</text><g class="s" text-anchor="end"><text x="-1" y="-48">1.5</text><text x="-1" y="-32">1.0</text><text x="-1" y="-15">0.5</text><text x="-1" y="1">0.0</text></g><g class="s" text-anchor="end"><text transform="translate(11,3) rotate(-45)">Hepa1-6 Control</text><text transform="translate(25,3) rotate(-45)">Hepa1-6 1μM</text><text transform="translate(39,3) rotate(-45)">Hepa1-6 10μM</text></g></g>
<g transform="translate(758,543)"><path d="M0,-45V0H47" stroke="#000" stroke-width=".7" fill="none"/><rect x="6" y="-32" width="9" height="32" fill="#f5b33a"/><rect x="20" y="-37" width="9" height="37" fill="#1aa51a"/><rect x="34" y="-29" width="9" height="29" fill="#4b80bd"/><path d="M10,-43V-44H38V-43M10,-38V-39H23V-38M25,-38V-39H38V-38" stroke="#777" stroke-width=".5" fill="none"/><text x="24" y="-45" class="sb" text-anchor="middle">***</text><text x="16" y="-40" class="sb" text-anchor="middle">***</text><text x="31" y="-40" class="sb" text-anchor="middle">***</text><text transform="translate(-8,0) rotate(-90)" class="s">Cyclin E1 protein expression level</text><text transform="translate(-4,-4) rotate(-90)" class="s">(Ratio to GAPDH)</text><g class="s" text-anchor="end"><text x="-1" y="-43">1.0</text><text x="-1" y="-21">0.5</text><text x="-1" y="1">0.0</text></g><g class="s" text-anchor="end"><text transform="translate(11,3) rotate(-45)">Hepa1-6 Control</text><text transform="translate(25,3) rotate(-45)">Hepa1-6 1μM</text><text transform="translate(39,3) rotate(-45)">Hepa1-6 10μM</text></g></g>
</g>
</svg>
</body></html>
